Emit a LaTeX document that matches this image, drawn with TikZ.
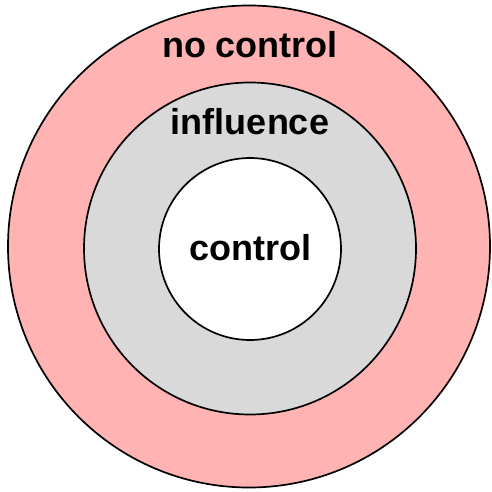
\documentclass[tikz,border=0pt]{standalone}
\usepackage{fontspec}
\setmainfont{Liberation Sans}
\definecolor{outerpink}{HTML}{FFB3B3}
\definecolor{midgray}{HTML}{D9D9D9}
\begin{document}
\begin{tikzpicture}[x=1pt,y=-1pt,
  ring/.style={circle,draw=black,line width=1.7pt,inner sep=0pt},
  lbl/.style={font=\bfseries\fontsize{36}{38}\selectfont,inner sep=0pt}]
\useasboundingbox (0,0) rectangle (492,492);
\node[ring,fill=outerpink,minimum size=482] (outer) at (249,246.5) {};
\node[ring,fill=midgray,minimum size=332] (middle) at (250,248.5) {};
\node[ring,fill=white,minimum size=182] (inner) at (250,249) {};
\node[lbl] (t1) at (250,45) {no control};
\node[lbl] (t2) at (250,122) {influence};
\node[lbl] (t3) at (250,248) {control};
\end{tikzpicture}
\end{document}
